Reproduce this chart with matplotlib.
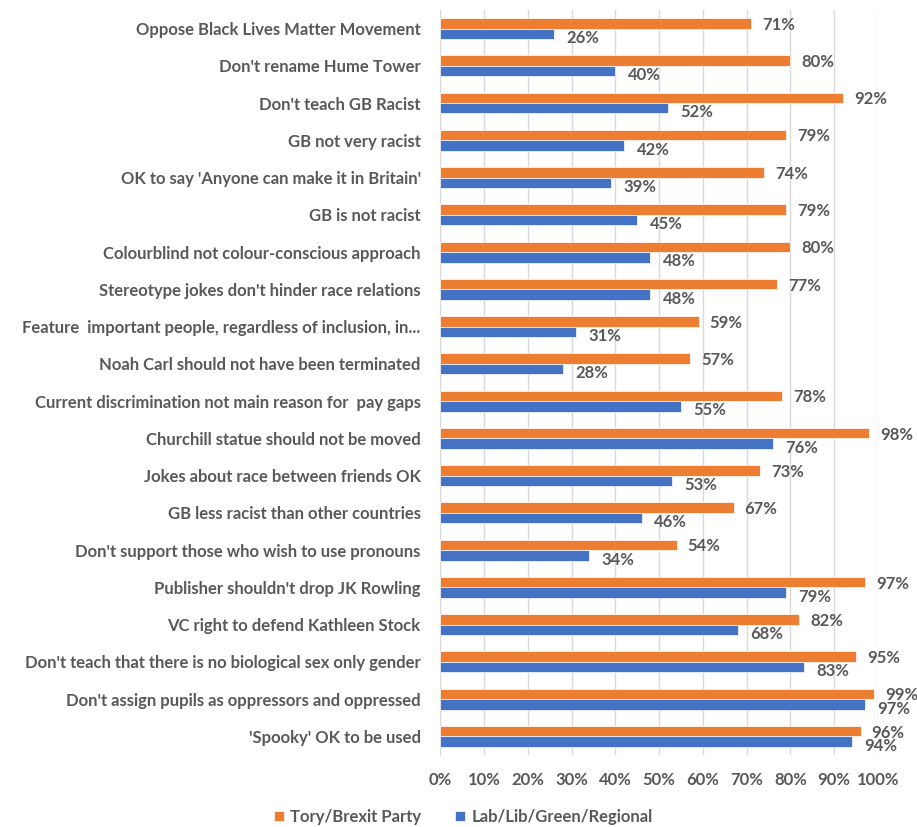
import matplotlib.pyplot as plt
import numpy as np

plt.rcParams['font.family'] = ['Lato', 'DejaVu Sans']
plt.rcParams['font.weight'] = 'bold'

labels = ["Oppose Black Lives Matter Movement",
          "Don't rename Hume Tower",
          "Don't teach GB Racist",
          "GB not very racist",
          "OK to say 'Anyone can make it in Britain'",
          "GB is not racist",
          "Colourblind not colour-conscious approach",
          "Stereotype jokes don't hinder race relations",
          "Feature  important people, regardless of inclusion, in...",
          "Noah Carl should not have been terminated",
          "Current discrimination not main reason for  pay gaps",
          "Churchill statue should not be moved",
          "Jokes about race between friends OK",
          "GB less racist than other countries",
          "Don't support those who wish to use pronouns",
          "Publisher shouldn't drop JK Rowling",
          "VC right to defend Kathleen Stock",
          "Don't teach that there is no biological sex only gender",
          "Don't assign pupils as oppressors and oppressed",
          "'Spooky' OK to be used"]
tory = [71, 80, 92, 79, 74, 79, 80, 77, 59, 57, 78, 98, 73, 67, 54, 97, 82, 95, 99, 96]
lab = [26, 40, 52, 42, 39, 45, 48, 48, 31, 28, 55, 76, 53, 46, 34, 79, 68, 83, 97, 94]
series_names = ['Tory/Brexit Party', 'Lab/Lib/Green/Regional']

orange = '#ED7D31'
blue = '#4472C4'
grey = '#595959'
fs = 12

fig = plt.figure(figsize=(9.17, 8.27), dpi=100)
ax = fig.add_axes([0.48, 0.087, 0.4775, 0.901])

pos = np.arange(len(labels))
h = 0.28
tv = np.array(tory) / 100.0
lv = np.array(lab) / 100.0
b1 = ax.barh(pos - h/2, tv, h, color=orange, edgecolor='white', linewidth=0.5, label=series_names[0], zorder=3)
b2 = ax.barh(pos + h/2, lv, h, color=blue, edgecolor='white', linewidth=0.5, label=series_names[1], zorder=3)

for y, v in zip(pos, tv):
    ax.annotate('%d%%' % round(v*100), (v, y - h/2), xytext=(8, -1), textcoords='offset points',
                ha='left', va='center', fontsize=fs, color=grey, fontweight='bold')
for y, v in zip(pos, lv):
    ax.annotate('%d%%' % round(v*100), (v, y + h/2), xytext=(9, -3), textcoords='offset points',
                ha='left', va='center', fontsize=fs, color=grey, fontweight='bold')

ax.set_xlim(0, 1)
ax.set_ylim(len(labels) - 0.5, -0.5)
ax.set_xticks(np.arange(0, 1.01, 0.1))
ax.set_xticklabels(['%d%%' % (t*10) for t in range(11)], fontsize=fs, color=grey)
ax.set_yticks(pos)
ax.set_yticklabels(labels, fontsize=fs, color=grey)
ax.tick_params(axis='x', length=0, pad=12)
ax.tick_params(axis='y', length=0, pad=14)
ax.grid(axis='x', color='#D9D9D9', linewidth=1, zorder=0)
for s in ['top', 'right', 'bottom']:
    ax.spines[s].set_visible(False)
ax.spines['left'].set_color('#D9D9D9')

fig.legend(handles=[b1, b2], loc='center', bbox_to_anchor=(0.505, 0.012), ncol=2, frameon=False,
           fontsize=fs, labelcolor=grey, handlelength=0.6, handleheight=0.6, columnspacing=2.0,
           handletextpad=0.4)

fig.savefig('out.png', dpi=100)
